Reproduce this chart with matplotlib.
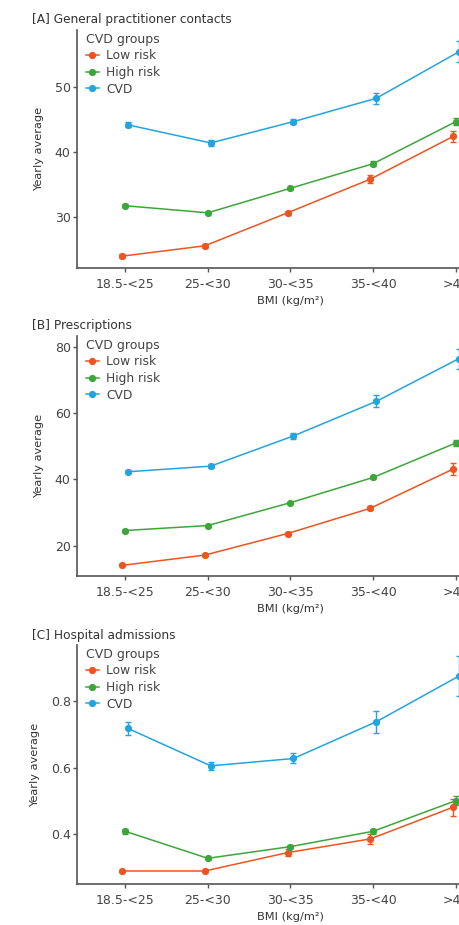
import matplotlib
matplotlib.use("Agg")
import matplotlib.pyplot as plt
import numpy as np

categories = ["18.5-<25", "25-<30", "30-<35", "35-<40", ">40"]
groups = ["Low risk", "High risk", "CVD"]
colors = ["#EE5420", "#3DA63A", "#22A5DF"]

# [A] General practitioner contacts
gp_low = [23.9, 25.5, 30.6, 35.8, 42.4]
gp_high = [31.7, 30.6, 34.4, 38.2, 44.7]
gp_cvd = [44.2, 41.4, 44.7, 48.3, 55.5]
gp_low_err = [0.3, 0.3, 0.3, 0.6, 0.9]
gp_high_err = [0.2, 0.2, 0.2, 0.4, 0.5]
gp_cvd_err = [0.4, 0.4, 0.4, 0.85, 1.6]

# [B] Prescriptions
rx_low = [14.1, 17.2, 23.7, 31.3, 43.1]
rx_high = [24.6, 26.1, 33.0, 40.6, 51.0]
rx_cvd = [42.3, 44.0, 53.1, 63.5, 76.4]
rx_low_err = [0.3, 0.3, 0.4, 0.6, 1.8]
rx_high_err = [0.3, 0.3, 0.3, 0.5, 0.8]
rx_cvd_err = [0.4, 0.5, 0.8, 1.8, 3.0]

# [C] Hospital admissions
ha_low = [0.290, 0.290, 0.345, 0.386, 0.481]
ha_high = [0.409, 0.328, 0.363, 0.409, 0.501]
ha_cvd = [0.717, 0.605, 0.627, 0.737, 0.874]
ha_low_err = [0.004, 0.004, 0.010, 0.015, 0.026]
ha_high_err = [0.008, 0.004, 0.005, 0.008, 0.013]
ha_cvd_err = [0.020, 0.012, 0.015, 0.033, 0.060]

panels = [
    ("[A] General practitioner contacts", [gp_low, gp_high, gp_cvd],
     [gp_low_err, gp_high_err, gp_cvd_err], (22.07, 58.86), [30, 40, 50], "{:.0f}"),
    ("[B] Prescriptions", [rx_low, rx_high, rx_cvd],
     [rx_low_err, rx_high_err, rx_cvd_err], (10.9, 83.2), [20, 40, 60, 80], "{:.0f}"),
    ("[C] Hospital admissions", [ha_low, ha_high, ha_cvd],
     [ha_low_err, ha_high_err, ha_cvd_err], (0.251, 0.967), [0.4, 0.6, 0.8], "{:.1f}"),
]

W, H = 460, 925
fig = plt.figure(figsize=(W / 100, H / 100), dpi=100)

# pixel layout: (top, bottom) of each axes
rows = [(30, 268), (336, 576), (645, 884)]
left_px = 77
cat_px = 82.75
xlim = (-0.58, 4.58)
width_px = (xlim[1] - xlim[0]) * cat_px
dodge = [-0.036, 0.0, 0.036]
axcol = "#555555"

for (title, series, errs, ylim, yticks, fmt), (top, bot) in zip(panels, rows):
    ax = fig.add_axes([left_px / W, 1 - bot / H, width_px / W, (bot - top) / H])
    x = np.arange(len(categories))
    for vals, err, col, lab, d in zip(series, errs, colors, groups, dodge):
        ax.errorbar(x + d, vals, yerr=err, fmt="none", ecolor=col, elinewidth=1.0,
                    capsize=2.5, capthick=1.0, zorder=2)
        ax.plot(x + d, vals, "-o", color=col, lw=1.1, ms=4.2, label=lab, zorder=3)
    ax.set_xlim(*xlim)
    ax.set_ylim(*ylim)
    ax.set_xticks(x)
    ax.set_xticklabels(categories)
    ax.set_yticks(yticks)
    ax.set_yticklabels([fmt.format(v) for v in yticks])
    for s in ["top", "right"]:
        ax.spines[s].set_visible(False)
    for s in ["left", "bottom"]:
        ax.spines[s].set_color(axcol)
        ax.spines[s].set_linewidth(1.2)
    ax.tick_params(axis="both", colors=axcol, labelcolor="#444444", labelsize=9,
                   length=3, width=1)
    ax.tick_params(axis="x", pad=4)
    ax.tick_params(axis="y", pad=1.5)
    ax.set_ylabel("Yearly average", fontsize=8.2, color="#333333", labelpad=8)
    ax.set_xlabel("BMI (kg/m²)", fontsize=8.2, color="#333333", labelpad=4)
    leg = ax.legend(title="CVD groups", loc="upper left", bbox_to_anchor=(0.0, 1.025),
                    frameon=False, fontsize=8.8, title_fontsize=9, handlelength=1.1,
                    handletextpad=0.6, labelspacing=0.3, borderaxespad=0.3,
                    alignment="left")
    for t in leg.get_texts():
        t.set_color("#444444")
    leg.get_title().set_color("#444444")
    fig.text(32 / W, 1 - (top - 10) / H, title, fontsize=8.7, color="#333333",
             ha="left", va="center")

fig.savefig("out.png", dpi=100)
